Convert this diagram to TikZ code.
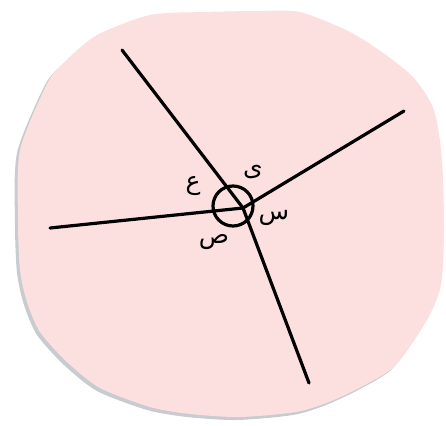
\documentclass[tikz,border=0pt]{standalone}
\usepackage{fontspec}
\newfontfamily\arabicfont[Script=Arabic]{DejaVu Sans}
\TeXXeTstate=1
\definecolor{discpink}{RGB}{252,224,224}
\definecolor{discshadow}{RGB}{200,204,208}
\tikzset{
  ray/.style={line width=3.2pt, line cap=round, black},
  anglemark/.style={line width=3.2pt, black},
  lbl/.style={font=\arabicfont\fontsize{25}{28}\selectfont, inner sep=0pt},
}
\begin{document}
\begin{tikzpicture}[x=1pt,y=-1pt]
\useasboundingbox (0,0) rectangle (446,425);
\def\discpath{plot[smooth cycle, tension=0.45] coordinates {
 (150,15) (205,12) (260,11) (300,12) (346,30) (379,50) (413,77) (434,110)
 (442,160) (444,230) (441,285) (427,320) (396,365) (363,386) (329,402)
 (296,412) (240,417) (190,414) (150,407) (100,388) (67,362) (40,332)
 (27,302) (20,270) (18,220) (20,150) (48,82) (67,60) (97,35)}}
\begin{scope}[shift={(-3,3)}]
  \fill[discshadow] \discpath;
\end{scope}
\fill[discpink] \discpath;
\coordinate (V) at (243,208);
\coordinate (A) at (122,50);
\coordinate (B) at (404,111);
\coordinate (C) at (50,228);
\coordinate (D) at (309,383);
\coordinate (M) at (233,206);
\draw[ray] (V) -- (A);
\draw[ray] (V) -- (B);
\draw[ray] (V) -- (C);
\draw[ray] (V) -- (D);
\draw[anglemark] (M) circle (20);
\node[lbl] (la) at (193,186) {\beginR ع\endR};
\node[lbl] (lb) at (253,172) {\beginR ى\endR};
\node[lbl] (lc) at (274,218) {\beginR س\endR};
\node[lbl] (ld) at (214,242) {\beginR ص\endR};
\end{tikzpicture}
\end{document}
